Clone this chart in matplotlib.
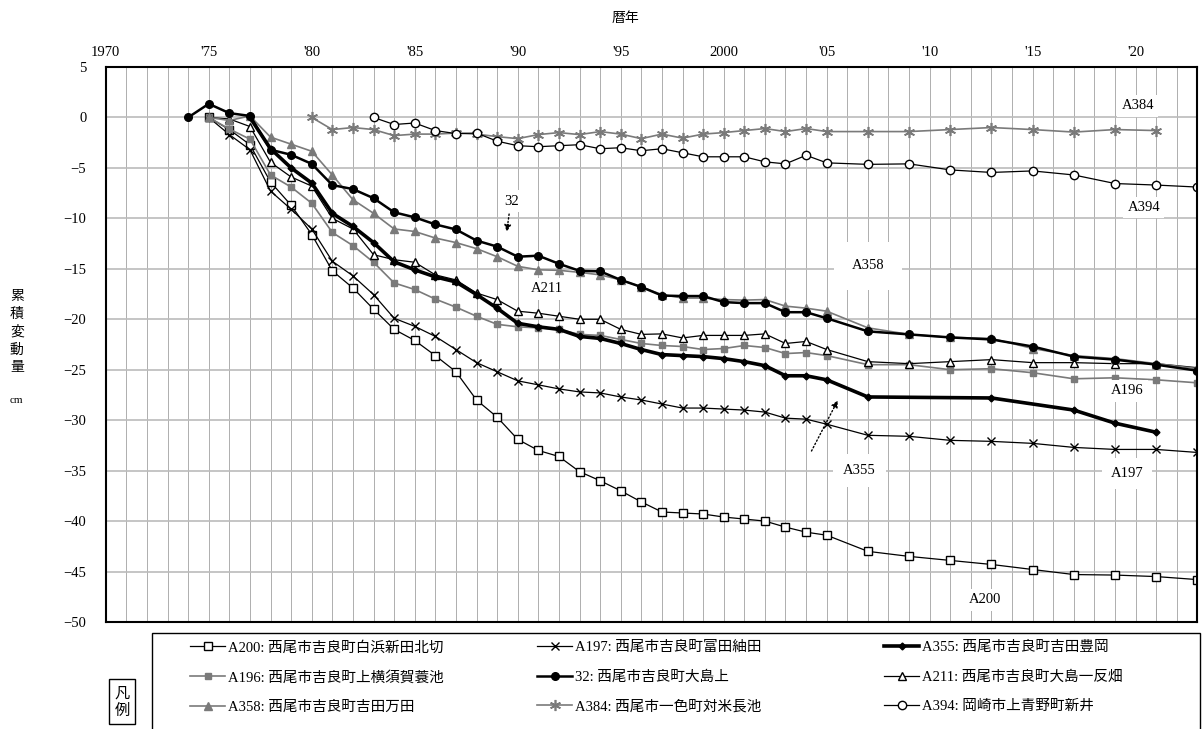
import numpy as np
import matplotlib
matplotlib.use("Agg")
from matplotlib import pyplot as plt
from matplotlib.patches import Rectangle

plt.rcParams['font.family'] = ['Liberation Serif', 'Noto Sans CJK JP', 'DejaVu Sans']

# survey years
yrs_annual = list(range(1975, 2006))
yrs_bi = list(range(2007, 2024, 2))
yrs_full = yrs_annual + yrs_bi

# values (cm)
a200 = [0, -1.2, -2.7, -6.4, -8.7, -11.6, -15.2, -16.9, -19.0, -21.0, -22.1, -23.6, -25.2, -28.0,
        -29.7, -31.9, -33.0, -33.6, -35.1, -36.0, -37.0, -38.1, -39.1, -39.2, -39.3, -39.6, -39.8,
        -40.0, -40.6, -41.1, -41.4, -43.0, -43.5, -43.9, -44.3, -44.8, -45.3, -45.35, -45.5, -45.8]
a197 = [0, -1.7, -3.2, -7.3, -9.1, -11.05, -14.25, -15.7, -17.55, -19.9, -20.7, -21.7, -23.0, -24.3,
        -25.2, -26.1, -26.5, -26.9, -27.2, -27.3, -27.7, -28.0, -28.4, -28.8, -28.8, -28.9, -29.0,
        -29.2, -29.8, -29.9, -30.4, -31.5, -31.6, -32.0, -32.1, -32.3, -32.7, -32.9, -32.9, -33.2]
a196 = [0, -1.15, -2.15, -5.7, -6.9, -8.5, -11.4, -12.7, -14.35, -16.4, -17.05, -18.0, -18.8, -19.7,
        -20.5, -20.75, -20.85, -21.0, -21.5, -21.6, -22.0, -22.4, -22.6, -22.7, -23.0, -22.9, -22.6,
        -22.8, -23.4, -23.3, -23.6, -24.5, -24.5, -25.0, -24.9, -25.3, -25.9, -25.8, -26.0, -26.3]
a211 = [0, -0.15, -0.9, -4.45, -5.9, -6.8, -10.0, -11.05, -13.6, -14.1, -14.35, -15.6, -16.1, -17.4,
        -18.05, -19.2, -19.4, -19.7, -20.0, -20.0, -21.0, -21.5, -21.45, -21.85, -21.6, -21.6, -21.6,
        -21.45, -22.4, -22.2, -23.0, -24.2, -24.4, -24.2, -24.0, -24.3, -24.3, -24.4, -24.4, -24.8]
a358 = [0, -0.3, 0.15, -1.95, -2.65, -3.35, -5.7, -8.15, -9.5, -11.05, -11.3, -11.95, -12.4, -13.0,
        -13.8, -14.75, -15.1, -15.15, -15.35, -15.6, -16.1, -16.8, -17.55, -17.9, -17.9, -18.05, -18.1,
        -18.05, -18.7, -18.9, -19.2, -20.85, -21.5, -21.8, -21.9, -22.9, -23.6, -23.9, -24.4, -24.9]

yrs_32 = [1974] + yrs_full
v32 = [0, 1.35, 0.43, 0.15, -3.2, -3.7, -4.6, -6.7, -7.1, -8.0, -9.4, -9.9, -10.6, -11.1, -12.2,
       -12.8, -13.8, -13.7, -14.5, -15.2, -15.25, -16.1, -16.8, -17.65, -17.7, -17.7, -18.3, -18.4,
       -18.4, -19.3, -19.3, -19.9, -21.2, -21.5, -21.8, -22.0, -22.7, -23.7, -24.0, -24.5, -25.1]

yrs_355 = list(range(1977, 2006)) + [2007, 2013, 2017, 2019, 2021]
a355 = [0, -3.1, -5.0, -6.5, -9.5, -10.8, -12.4, -14.3, -15.1, -15.8, -16.3, -17.55, -18.9, -20.4,
        -20.75, -21.0, -21.7, -21.9, -22.4, -23.0, -23.5, -23.6, -23.7, -23.9, -24.2, -24.6, -25.6,
        -25.6, -26.0, -27.7, -27.8, -29.0, -30.3, -31.2]

yrs_384 = list(range(1980, 2006)) + list(range(2007, 2022, 2))
a384 = [0, -1.2, -1.0, -1.2, -1.8, -1.65, -1.65, -1.55, -1.65, -1.9, -2.1, -1.7, -1.5, -1.7, -1.4,
        -1.65, -2.1, -1.65, -2.05, -1.65, -1.5, -1.3, -1.1, -1.4, -1.1, -1.4, -1.4, -1.4, -1.2, -1.0,
        -1.2, -1.45, -1.2, -1.3]

yrs_394 = list(range(1983, 2006)) + yrs_bi
a394 = [0, -0.7, -0.55, -1.3, -1.6, -1.55, -2.35, -2.8, -2.9, -2.8, -2.7, -3.1, -3.0, -3.3, -3.1,
        -3.5, -3.9, -3.9, -3.9, -4.4, -4.6, -3.75, -4.5, -4.65, -4.6, -5.2, -5.45, -5.3, -5.7,
        -6.55, -6.7, -6.9]

names = ["A200: 西尾市吉良町白浜新田北切", "A197: 西尾市吉良町富田紬田", "A355: 西尾市吉良町吉田豊岡",
         "A196: 西尾市吉良町上横須賀蓑池", "32: 西尾市吉良町大島上", "A211: 西尾市吉良町大島一反畑",
         "A358: 西尾市吉良町吉田万田", "A384: 西尾市一色町対米長池", "A394: 岡崎市上青野町新井"]

W, H = 1203, 729
fig = plt.figure(figsize=(W / 100, H / 100), dpi=100)
ax = fig.add_axes([0.0879, 0.1468, 0.9075, 0.7613])

gray = "#7a7a7a"
ms = 6
h = {}
h["A200"], = ax.plot(yrs_full, a200, color="black", lw=0.9, marker="s", ms=ms, mfc="white", mec="black", mew=1)
h["A197"], = ax.plot(yrs_full, a197, color="black", lw=0.9, marker="x", ms=ms, mec="black", mew=1)
h["A196"], = ax.plot(yrs_full, a196, color=gray, lw=1.2, marker="s", ms=5, mfc=gray, mec=gray)
h["A211"], = ax.plot(yrs_full, a211, color="black", lw=0.9, marker="^", ms=ms, mfc="white", mec="black", mew=1)
h["A358"], = ax.plot(yrs_full, a358, color=gray, lw=1.2, marker="^", ms=ms, mfc=gray, mec=gray)
h["32"], = ax.plot(yrs_32, v32, color="black", lw=1.8, marker="o", ms=5.5, mfc="black", mec="black")
h["A355"], = ax.plot(yrs_355, a355, color="black", lw=2.6, marker="D", ms=3.5, mfc="black", mec="black")
h["A384"], = ax.plot(yrs_384, a384, color=gray, lw=1.2, marker=(6, 2, 0), ms=8, mec=gray, mew=1.2)
h["A394"], = ax.plot(yrs_394, a394, color="black", lw=0.9, marker="o", ms=ms, mfc="white", mec="black", mew=1)

ax.set_xlim(1970, 2023)
ax.set_ylim(-50, 5)
ax.xaxis.tick_top()
ax.set_xticks(range(1970, 2024, 5))
ax.set_xticklabels(["1970", "'75", "'80", "'85", "'90", "'95", "2000", "'05", "'10", "'15", "'20"])
ax.set_xticks(range(1970, 2024), minor=True)
ax.set_yticks(range(-50, 6, 5))
ax.tick_params(axis="x", which="both", length=0, labelsize=10.5, pad=6)
ax.tick_params(axis="y", length=0, labelsize=10.5, pad=14)
ax.grid(axis="x", which="both", color="#444444", ls=(0, (1.2, 1.2)), lw=0.6)
ax.grid(axis="y", color="#bbbbbb", ls="-", lw=1.2)
ax.set_axisbelow(True)
for s in ax.spines.values():
    s.set_linewidth(1.5)

fig.text(0.52, 0.975, "暦年", ha="center", va="center", fontsize=10, family=["Noto Sans CJK JP"])
fig.text(0.014, 0.545, "累\n積\n変\n動\n量", ha="center", va="center", fontsize=10,
         linespacing=1.35, family=["Noto Sans CJK JP"])
fig.text(0.014, 0.45, "cm", ha="center", va="center", fontsize=8)

# labels on the chart
wbox = dict(fc="white", ec="none", pad=3)
ax.text(1989.7, -8.3, "32", ha="center", va="center", fontsize=10.5, bbox=wbox)
ax.annotate("", xy=(1989.45, -11.6), xytext=(1989.6, -9.3),
            arrowprops=dict(arrowstyle="-|>", ls=":", lw=1, color="black", mutation_scale=10))
ax.text(1991.4, -17.0, "A211", ha="center", va="center", fontsize=10.5, bbox=wbox)
ax.text(2007.0, -14.7, "A358", ha="center", va="center", fontsize=10.5,
        bbox=dict(fc="white", ec="none", boxstyle="square,pad=1.2"))
ax.text(2020.4, -8.9, "A394", ha="center", va="center", fontsize=10.5, bbox=wbox)
ax.text(2020.1, 1.15, "A384", ha="center", va="center", fontsize=10.5, bbox=wbox)
ax.text(2019.6, -27.1, "A196", ha="center", va="center", fontsize=10.5, bbox=wbox)
ax.text(2006.6, -35.0, "A355", ha="center", va="center", fontsize=10.5,
        bbox=dict(fc="white", ec="none", boxstyle="square,pad=0.7"))
ax.annotate("", xy=(2005.6, -27.8), xytext=(2004.2, -33.3),
            arrowprops=dict(arrowstyle="-|>", ls=":", lw=1, color="black", mutation_scale=10))
ax.text(2019.6, -35.3, "A197", ha="center", va="center", fontsize=10.5,
        bbox=dict(fc="white", ec="none", boxstyle="square,pad=0.6"))
ax.text(2012.7, -47.8, "A200", ha="center", va="center", fontsize=10.5, bbox=wbox)

# legend: three columns filled row by row, one legend per column inside a shared frame
keys = ["A200", "A197", "A355", "A196", "32", "A211", "A358", "A384", "A394"]
labels = dict(zip(keys, names))
col_x = [190, 537, 884]
for col in range(3):
    ks = [keys[row * 3 + col] for row in range(3)]
    fig.legend([h[k] for k in ks], [labels[k] for k in ks], loc="upper left",
               bbox_to_anchor=(col_x[col] / W, 1 - 641 / H), frameon=False,
               handlelength=2.4, handletextpad=0.2, borderaxespad=0, borderpad=0,
               labelspacing=1.11, prop={"family": ["Liberation Serif", "Noto Sans CJK JP"], "size": 10.5})
fig.patches.append(Rectangle((152 / W, -0.01), (1200 - 152) / W, 0.01 + (H - 633) / H,
                             transform=fig.transFigure, fill=False, ec="black", lw=1.0))

fig.text(0.1015, 0.0375, "凡\n例", ha="center", va="center", fontsize=11, linespacing=1.0,
         family=["Noto Sans CJK JP"],
         bbox=dict(fc="white", ec="black", lw=1, boxstyle="square,pad=0.35"))

fig.savefig("out.png", dpi=100)
